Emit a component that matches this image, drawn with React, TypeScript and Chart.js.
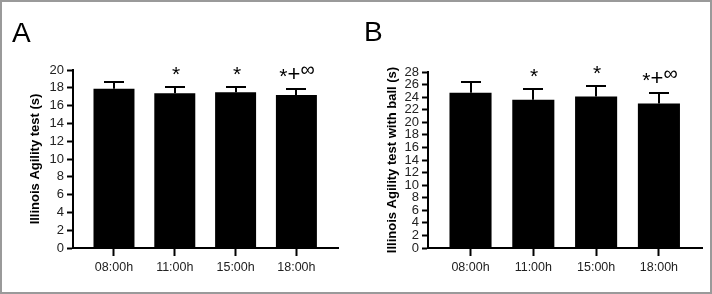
import { useEffect, useRef } from 'react';
import { Chart, registerables } from 'chart.js';

Chart.register(...registerables);

// Time-of-day test sessions
const timeLabels = ['08:00h', '11:00h', '15:00h', '18:00h'];

// Panel A: Illinois Agility test (s), mean and SD
const agilityMean = [17.9, 17.4, 17.5, 17.2];
const agilitySD = [0.7, 0.65, 0.55, 0.65];

// Panel B: Illinois Agility test with ball (s), mean and SD
const ballMean = [24.7, 23.6, 24.1, 23.0];
const ballSD = [1.75, 1.7, 1.65, 1.7];

// Significance marks above each session
const significance = ['', '*', '*', '*+∞'];

const agilityAxisMax = 20;
const ballAxisMax = 28;
const tickStep = 2;

const FONT = '"Liberation Sans", Arial, Helvetica, sans-serif';

type Geometry = {
  left: number;
  right: number;
  top: number;
  bottom: number;
  xMin: number;
  xMax: number;
  barPct: number;
  titleCenter: number;
  letter: string;
  letterX: number;
  letterY: number;
};

const CANVAS_W = 356;
const CANVAS_H = 294;

// Error bars (mean + SD), significance marks and the panel letter
const annotationPlugin = {
  id: 'panelAnnotations',
  afterDatasetsDraw(chart: any, _args: any, opts: any) {
    const { ctx } = chart;
    const x = chart.scales.x;
    const y = chart.scales.y;
    const means: number[] = opts.means;
    const sds: number[] = opts.sds;
    const marks: string[] = opts.marks;
    ctx.save();
    ctx.strokeStyle = '#000';
    ctx.lineWidth = 2;
    means.forEach((m, i) => {
      const px = Math.round(x.getPixelForValue(i));
      const top = Math.round(y.getPixelForValue(m + sds[i]));
      const base = y.getPixelForValue(m);
      ctx.beginPath();
      ctx.moveTo(px, base);
      ctx.lineTo(px, top);
      ctx.moveTo(px - 10, top);
      ctx.lineTo(px + 10, top);
      ctx.stroke();

      const text = marks[i];
      if (!text) return;
      const runs = Array.from(text).map((ch) => {
        if (ch === '+') return { ch, size: 22, dy: -2 };
        if (ch === '∞') return { ch, size: 20, dy: -7 };
        return { ch, size: 21, dy: 0 };
      });
      let total = 0;
      const widths = runs.map((r) => {
        ctx.font = `${r.size}px ${FONT}`;
        const w = ctx.measureText(r.ch).width;
        total += w;
        return w;
      });
      let cx = px - total / 2 + 1;
      const baseline = top - 6;
      ctx.fillStyle = '#000';
      ctx.textBaseline = 'alphabetic';
      ctx.textAlign = 'left';
      runs.forEach((r, k) => {
        ctx.font = `${r.size}px ${FONT}`;
        ctx.fillText(r.ch, cx, baseline + r.dy);
        cx += widths[k];
      });
    });
    ctx.font = `28px ${FONT}`;
    ctx.fillStyle = '#000';
    ctx.textAlign = 'left';
    ctx.textBaseline = 'alphabetic';
    ctx.fillText(opts.letter, opts.letterX, opts.letterY);
    ctx.restore();
  },
};

function makeConfig(
  means: number[],
  sds: number[],
  axisMax: number,
  title: string,
  g: Geometry
): any {
  return {
    type: 'bar',
    data: {
      datasets: [
        {
          data: means.map((m, i) => ({ x: i, y: m })),
          backgroundColor: '#000',
          borderWidth: 0,
          barPercentage: g.barPct,
          categoryPercentage: 1,
        },
      ],
    },
    options: {
      animation: false,
      responsive: false,
      devicePixelRatio: 1,
      layout: {
        padding: { left: 0, right: CANVAS_W - g.right, top: g.top, bottom: 0 },
      },
      plugins: {
        legend: { display: false },
        tooltip: { enabled: false },
        panelAnnotations: {
          means,
          sds,
          marks: significance,
          letter: g.letter,
          letterX: g.letterX,
          letterY: g.letterY,
        },
      },
      scales: {
        x: {
          type: 'linear',
          min: g.xMin,
          max: g.xMax,
          offset: false,
          afterBuildTicks: (s: any) => {
            s.ticks = timeLabels.map((_, i) => ({ value: i }));
          },
          afterFit: (s: any) => {
            s.height = CANVAS_H - g.bottom;
          },
          ticks: {
            autoSkip: false,
            maxRotation: 0,
            padding: 4,
            color: '#222',
            font: { family: FONT, size: 12.5 },
            callback: (v: number) => timeLabels[v] ?? '',
          },
          grid: {
            offset: false,
            drawOnChartArea: false,
            drawTicks: true,
            tickLength: 8,
            tickWidth: 2,
            tickColor: '#000',
            color: '#000',
          },
          border: { display: true, width: 2, color: '#000' },
        },
        y: {
          type: 'linear',
          min: 0,
          max: axisMax,
          afterFit: (s: any) => {
            s.width = g.left;
          },
          ticks: {
            stepSize: tickStep,
            autoSkip: false,
            padding: 3,
            color: '#222',
            font: { family: FONT, size: 13 },
          },
          grid: {
            drawOnChartArea: false,
            drawTicks: true,
            tickLength: 6,
            tickWidth: 2,
            tickColor: '#000',
            color: '#000',
          },
          border: { display: true, width: 2, color: '#000' },
          title: {
            display: true,
            text: title,
            color: '#000',
            font: { family: FONT, size: 13, weight: 'bold' },
            padding: { top: g.titleCenter - 7.8, bottom: 0 },
          },
        },
      },
    },
    plugins: [annotationPlugin],
  };
}

function Panel(props: {
  means: number[];
  sds: number[];
  axisMax: number;
  title: string;
  g: Geometry;
  offsetX: number;
}) {
  const ref = useRef<HTMLCanvasElement | null>(null);
  useEffect(() => {
    if (!ref.current) return;
    const chart = new Chart(
      ref.current,
      makeConfig(props.means, props.sds, props.axisMax, props.title, props.g)
    );
    return () => chart.destroy();
  }, []);
  return (
    <canvas
      ref={ref}
      width={CANVAS_W}
      height={CANVAS_H}
      style={{
        position: 'absolute',
        left: props.offsetX,
        top: 0,
        width: CANVAS_W,
        height: CANVAS_H,
      }}
    />
  );
}

const geometryA: Geometry = {
  left: 73,
  right: 338,
  top: 70,
  bottom: 248,
  xMin: -0.674,
  xMax: 3.684,
  barPct: 0.674,
  titleCenter: 35,
  letter: 'A',
  letterX: 12,
  letterY: 42,
};

const geometryB: Geometry = {
  left: 72,
  right: 346,
  top: 72,
  bottom: 248,
  xMin: -0.677,
  xMax: 3.686,
  barPct: 0.67,
  titleCenter: 36,
  letter: 'B',
  letterX: 8,
  letterY: 41,
};

export default function App() {
  return (
    <div
      style={{
        position: 'fixed',
        left: 0,
        top: 0,
        width: 712,
        height: 294,
        background: '#fff',
        overflow: 'hidden',
      }}
    >
      <Panel
        means={agilityMean}
        sds={agilitySD}
        axisMax={agilityAxisMax}
        title="Illinois Agility test (s)"
        g={geometryA}
        offsetX={0}
      />
      <Panel
        means={ballMean}
        sds={ballSD}
        axisMax={ballAxisMax}
        title="Illinois Agility test with ball (s)"
        g={geometryB}
        offsetX={356}
      />
      <div
        style={{
          position: 'absolute',
          left: 0,
          top: 0,
          width: 712,
          height: 294,
          boxSizing: 'border-box',
          border: '2px solid #9a9a9a',
          pointerEvents: 'none',
        }}
      />
    </div>
  );
}
